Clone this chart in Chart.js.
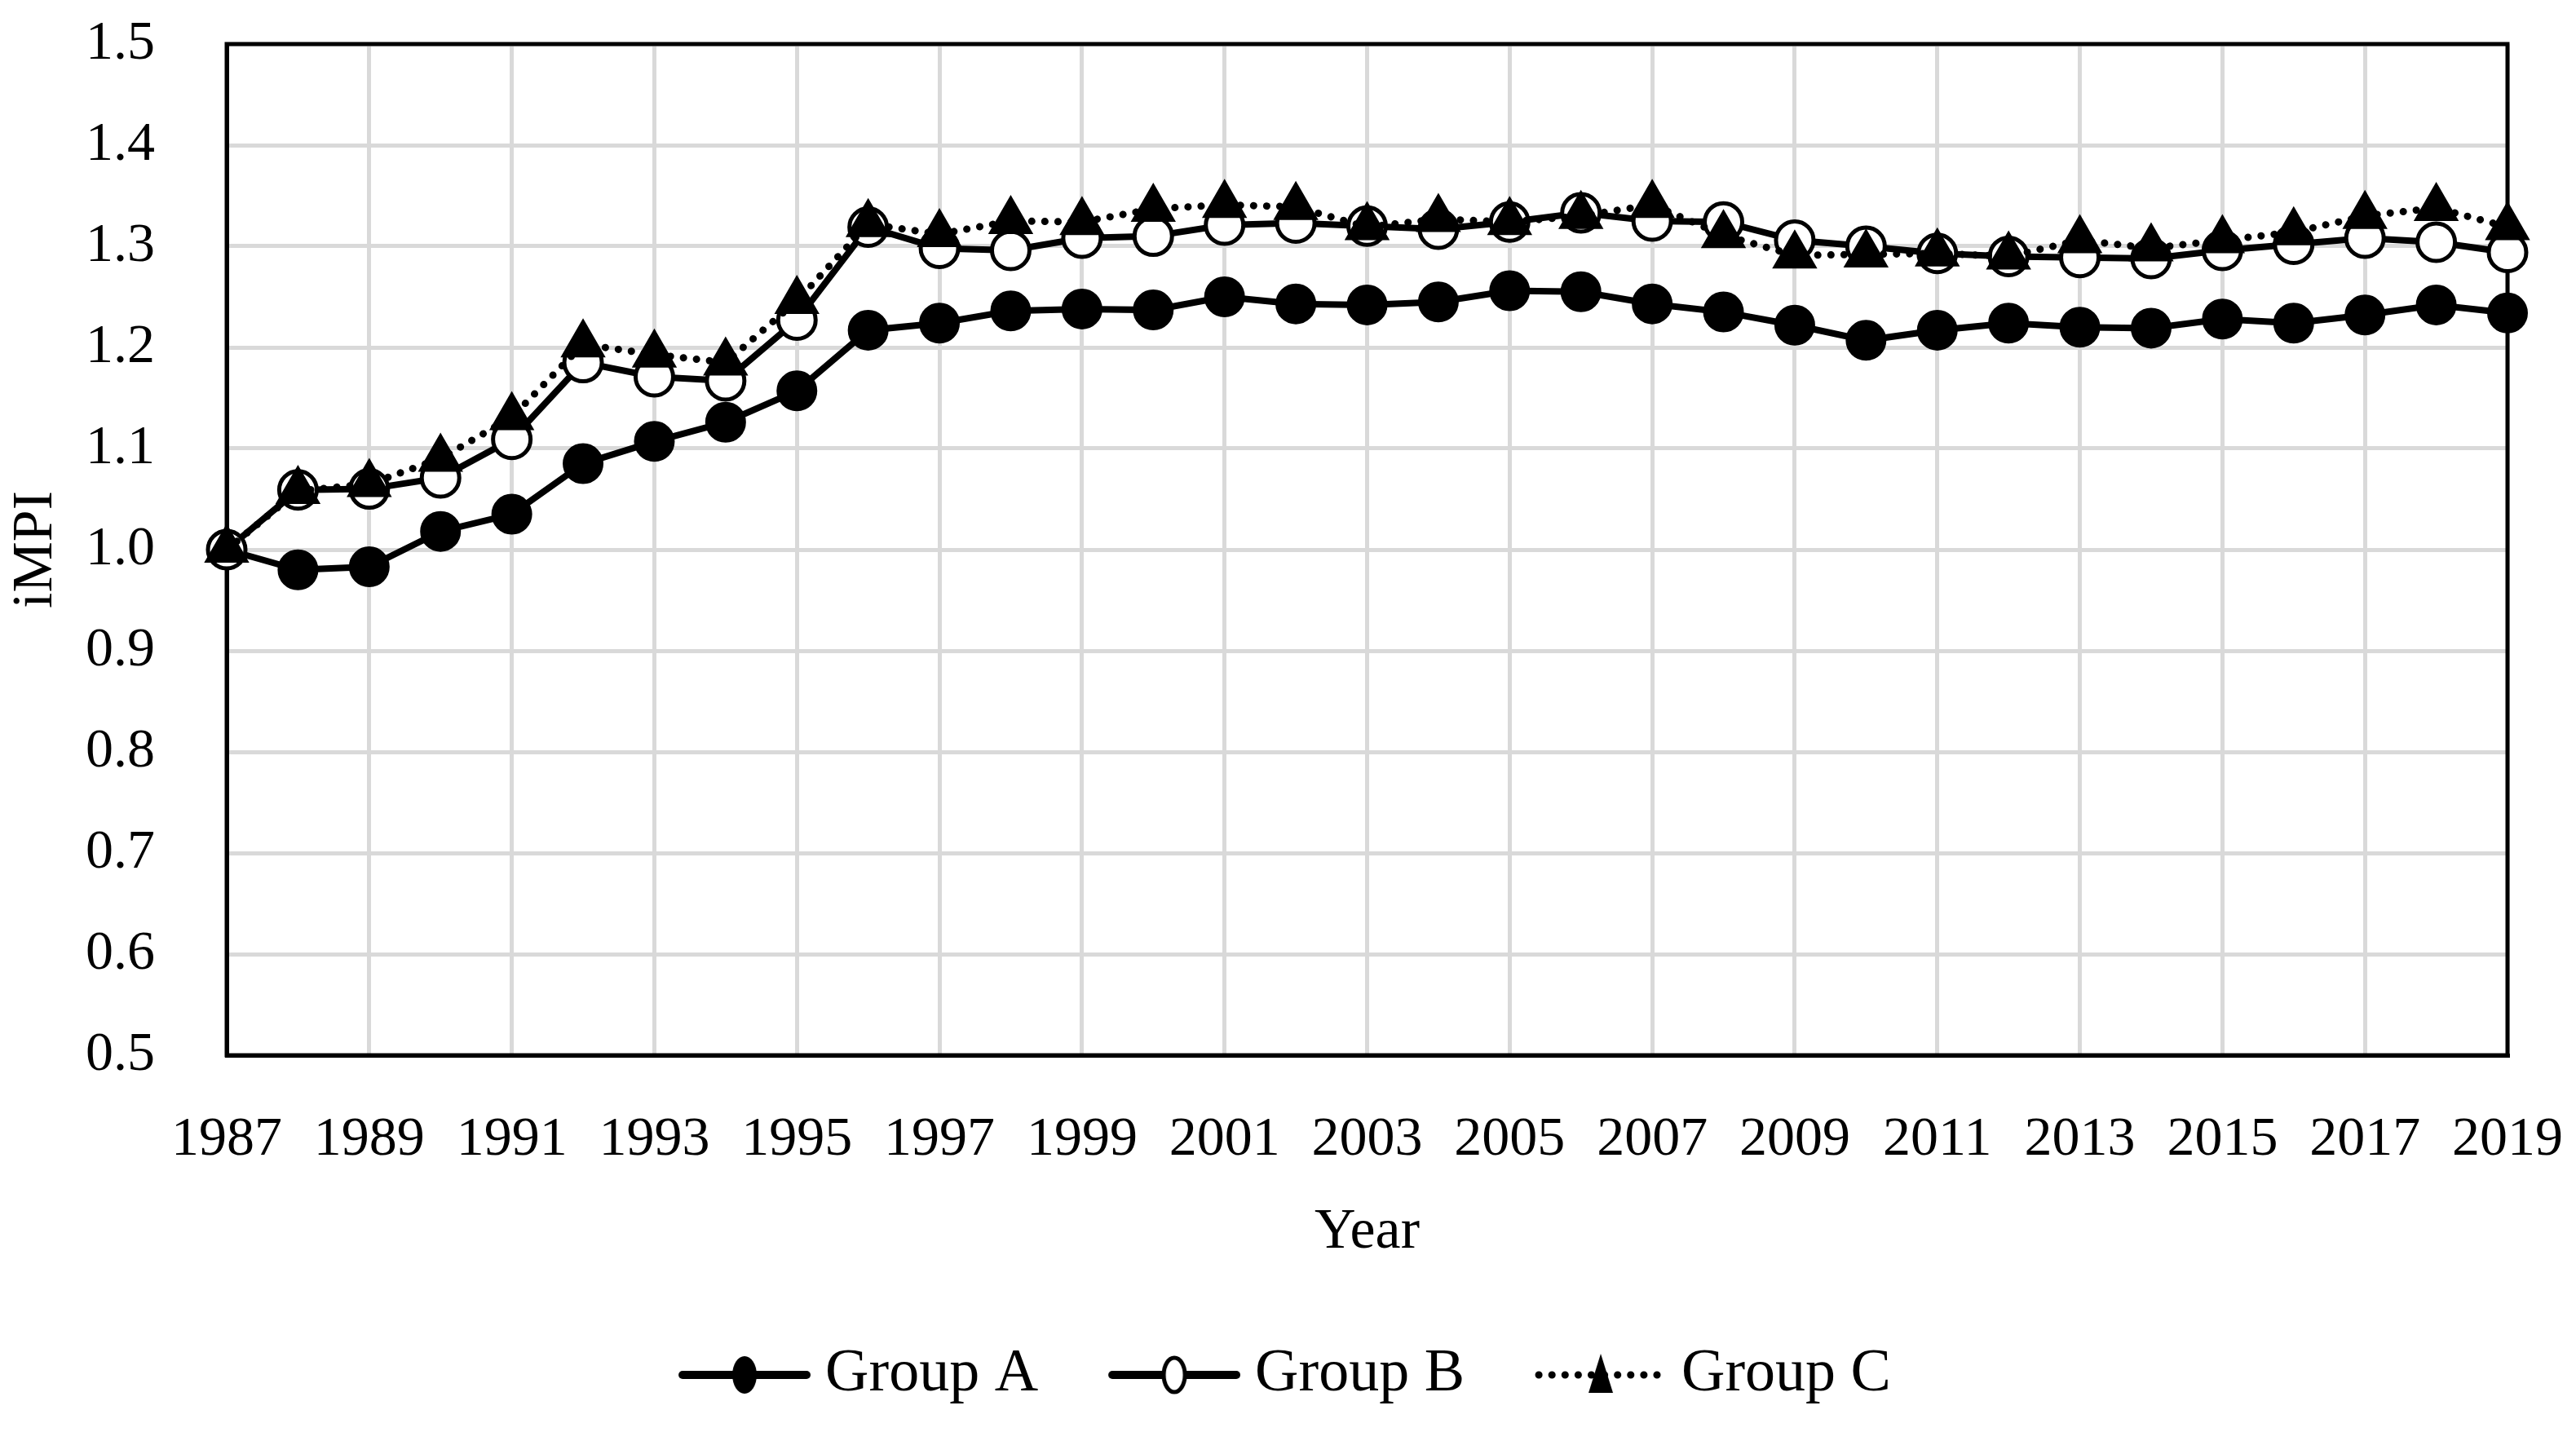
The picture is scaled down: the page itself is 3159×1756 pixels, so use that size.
<!DOCTYPE html>
<html>
<head>
<meta charset="utf-8">
<script src="https://cdn.jsdelivr.net/npm/chart.js@4.4.1/dist/chart.umd.min.js"></script>
<style>
  html, body { margin: 0; padding: 0; background: #fff; }
  canvas { display: block; }
</style>
</head>
<body>
<canvas id="chart" width="3159" height="1756"></canvas>
<script>
// dados
const years = [1987, 1988, 1989, 1990, 1991, 1992, 1993, 1994, 1995, 1996, 1997,
  1998, 1999, 2000, 2001, 2002, 2003, 2004, 2005, 2006, 2007, 2008, 2009, 2010,
  2011, 2012, 2013, 2014, 2015, 2016, 2017, 2018, 2019];

const groupA = [1.000, 0.980, 0.983, 1.018, 1.035, 1.085, 1.107, 1.126, 1.157, 1.217, 1.224,
  1.236, 1.238, 1.237, 1.250, 1.243, 1.242, 1.245, 1.256, 1.255, 1.243, 1.235, 1.222, 1.207,
  1.217, 1.224, 1.220, 1.219, 1.228, 1.224, 1.232, 1.242, 1.234];

const groupB = [1.000, 1.059, 1.060, 1.071, 1.109, 1.185, 1.171, 1.167, 1.227, 1.319, 1.298,
  1.296, 1.308, 1.310, 1.321, 1.323, 1.320, 1.317, 1.324, 1.333, 1.325, 1.324, 1.306, 1.300,
  1.293, 1.290, 1.289, 1.288, 1.296, 1.302, 1.308, 1.304, 1.294];

const groupC = [1.000, 1.058, 1.065, 1.090, 1.131, 1.203, 1.193, 1.185, 1.246, 1.322, 1.312,
  1.325, 1.324, 1.337, 1.341, 1.339, 1.319, 1.327, 1.324, 1.330, 1.341, 1.311, 1.291, 1.292,
  1.293, 1.290, 1.306, 1.298, 1.306, 1.314, 1.330, 1.338, 1.319];

const seriesNames = ['Group A', 'Group B', 'Group C'];
const yTicks = [0.5, 0.6, 0.7, 0.8, 0.9, 1.0, 1.1, 1.2, 1.3, 1.4, 1.5];

const FONT = 'Liberation Serif';
const LEGEND_FONT = 74;
Chart.defaults.font.family = FONT;
Chart.defaults.color = '#000';

function toPoints(values) {
  return years.map((yr, i) => ({ x: yr, y: values[i] }));
}

// ícones da legenda: linha + marcador, no estilo do Excel
const ICON_MARGIN = 95;
const ICON_LINE = 162;
function makeIcon(kind) {
  const c = document.createElement('canvas');
  c.width = ICON_MARGIN + ICON_LINE;
  c.height = 60;
  const g = c.getContext('2d');
  const x0 = ICON_MARGIN, x1 = ICON_MARGIN + ICON_LINE, cy = 30, cx = (x0 + x1) / 2;
  g.strokeStyle = '#000';
  g.fillStyle = '#000';
  g.lineCap = 'round';
  if (kind === 'C') {
    g.lineWidth = 9;
    g.setLineDash([0.1, 16]);
  } else {
    g.lineWidth = 10;
  }
  g.beginPath();
  g.moveTo(x0 + 5, cy);
  g.lineTo(x1 - 5, cy);
  g.stroke();
  g.setLineDash([]);
  if (kind === 'A') {
    g.beginPath();
    g.ellipse(cx, cy, 15, 23, 0, 0, Math.PI * 2);
    g.fill();
  } else if (kind === 'B') {
    g.lineWidth = 5;
    g.fillStyle = '#fff';
    g.beginPath();
    g.ellipse(cx, cy, 13, 21, 0, 0, Math.PI * 2);
    g.fill();
    g.stroke();
  } else {
    g.beginPath();
    g.moveTo(cx, cy - 26);
    g.lineTo(cx + 15, cy + 22);
    g.lineTo(cx - 15, cy + 22);
    g.closePath();
    g.fill();
  }
  return c;
}
const legendIcons = [makeIcon('A'), makeIcon('B'), makeIcon('C')];

// moldura preta da área do gráfico (atrás das séries)
const frame = {
  id: 'frame',
  beforeDatasetsDraw(chart) {
    const { ctx, chartArea: a } = chart;
    ctx.save();
    ctx.strokeStyle = '#000';
    ctx.lineWidth = 5;
    ctx.strokeRect(a.left, a.top, a.right - a.left, a.bottom - a.top);
    ctx.restore();
  }
};

window.onload = function() {
  window.lineChart = new Chart(document.getElementById('chart'), {
    type: 'line',
    data: {
      datasets: [
        {
          label: seriesNames[0],
          data: toPoints(groupA),
          borderColor: '#000',
          borderWidth: 8,
          backgroundColor: '#000',
          pointStyle: 'circle',
          pointRadius: 23,
          pointBorderWidth: 4,
          pointBackgroundColor: '#000',
          pointBorderColor: '#000',
          clip: false,
          order: 3
        },
        {
          label: seriesNames[1],
          data: toPoints(groupB),
          borderColor: '#000',
          borderWidth: 8,
          backgroundColor: '#fff',
          pointStyle: 'circle',
          pointRadius: 23,
          pointBorderWidth: 5,
          pointBackgroundColor: '#fff',
          pointBorderColor: '#000',
          clip: false,
          order: 2
        },
        {
          label: seriesNames[2],
          data: toPoints(groupC),
          borderColor: '#000',
          borderWidth: 9,
          borderDash: [0.1, 16],
          borderCapStyle: 'round',
          backgroundColor: '#000',
          pointStyle: 'triangle',
          pointRadius: 30,
          pointBorderWidth: 2,
          pointBackgroundColor: '#000',
          pointBorderColor: '#000',
          clip: false,
          order: 1
        }
      ]
    },
    options: {
      responsive: false,
      devicePixelRatio: 1,
      animation: false,
      layout: { padding: { left: 0, right: 84, top: 54, bottom: 23 } },
      plugins: {
        tooltip: { enabled: false },
        legend: {
          position: 'bottom',
          labels: {
            usePointStyle: true,
            pointStyleWidth: ICON_MARGIN + ICON_LINE - 38,
            padding: 10,
            color: '#000',
            font: { size: LEGEND_FONT, family: FONT },
            generateLabels: function(chart) {
              return chart.data.datasets.map((ds, i) => ({
                text: ds.label,
                pointStyle: legendIcons[i],
                fillStyle: '#000',
                strokeStyle: '#000',
                lineWidth: 0,
                hidden: false,
                datasetIndex: i
              }));
            }
          }
        }
      },
      scales: {
        x: {
          type: 'linear',
          min: years[0],
          max: years[years.length - 1],
          afterFit: function(scale) {
            scale.height = 345;
            scale.paddingLeft = 0;
            scale.paddingRight = 0;
          },
          ticks: {
            stepSize: 2,
            autoSkip: false,
            maxRotation: 0,
            padding: 63,
            color: '#000',
            font: { size: 68, family: FONT },
            callback: (v) => String(v)
          },
          grid: { color: '#d9d9d9', lineWidth: 5, drawTicks: false },
          border: { display: true, color: '#000', width: 5 },
          title: {
            display: true,
            text: 'Year',
            color: '#000',
            font: { size: 70, family: FONT },
            padding: { top: 0, bottom: 85 }
          }
        },
        y: {
          min: yTicks[0],
          max: yTicks[yTicks.length - 1],
          afterFit: function(scale) {
            scale.width = 278;
            scale.paddingTop = 0;
            scale.paddingBottom = 0;
          },
          ticks: {
            stepSize: 0.1,
            padding: 88,
            color: '#000',
            font: { size: 68, family: FONT },
            callback: (v) => Number(v).toFixed(1)
          },
          grid: { color: '#d9d9d9', lineWidth: 5, drawTicks: false },
          border: { display: true, color: '#000', width: 5 },
          title: {
            display: true,
            text: 'iMPI',
            color: '#000',
            font: { size: 70, family: FONT },
            padding: { top: 3, bottom: 0 }
          }
        }
      }
    },
    plugins: [frame]
  });
};
</script>
</body>
</html>
